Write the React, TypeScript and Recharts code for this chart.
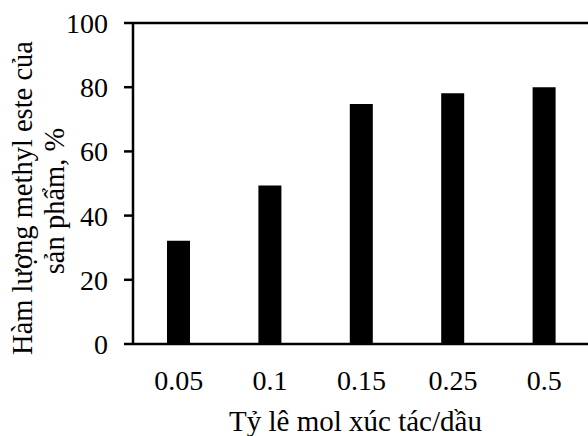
import React from "react";
import {
  BarChart,
  Bar,
  XAxis,
  YAxis,
  ReferenceLine,
  Label,
} from "recharts";

const ratios = ["0.05", "0.1", "0.15", "0.25", "0.5"];
const methylEster = [32.2, 49.4, 74.8, 78.1, 80.0];
const yTicks = [0, 20, 40, 60, 80, 100];

const data = ratios.map((r, i) => ({ ratio: r, value: methylEster[i] }));

const FONT = "'Liberation Serif', 'Times New Roman', serif";
const FS = 28;

const YLabel = () => (
  <g>
    <text
      x={32}
      y={198}
      transform="rotate(-90 32 198)"
      textAnchor="middle"
      fontFamily={FONT}
      fontSize={28.5}
      fill="#000"
    >
      Hàm lượng methyl este của
    </text>
    <text
      x={64}
      y={201}
      transform="rotate(-90 64 201)"
      textAnchor="middle"
      fontFamily={FONT}
      fontSize={28.5}
      fill="#000"
    >
      sản phẩm, %
    </text>
  </g>
);

export default function App() {
  return (
    <div
      style={{
        position: "absolute",
        left: 0,
        top: 0,
        width: 588,
        height: 436,
        overflow: "hidden",
        background: "#fff",
      }}
    >
      <BarChart
        width={600}
        height={436}
        data={data}
        margin={{ top: 23, right: 10, left: 0, bottom: 0 }}
        barCategoryGap="0%"
      >
        <XAxis
          dataKey="ratio"
          height={92}
          tickLine={false}
          tickMargin={20}
          axisLine={{ stroke: "#000", strokeWidth: 2.5 }}
          tick={{ fill: "#000", fontFamily: FONT, fontSize: FS }}
        >
          <Label
            value="Tỷ lê mol xúc tác/dầu"
            position="insideBottom"
            offset={5}
            dx={-6}
            style={{ fill: "#000", fontFamily: FONT, fontSize: 29 }}
          />
        </XAxis>
        <YAxis
          width={133}
          domain={[0, 100]}
          ticks={yTicks}
          tickSize={9}
          tickMargin={16}
          interval={0}
          axisLine={{ stroke: "#000", strokeWidth: 2.5 }}
          tickLine={{ stroke: "#000", strokeWidth: 2.5 }}
          tick={{ fill: "#000", fontFamily: FONT, fontSize: FS }}
        >
          <Label content={<YLabel />} />
        </YAxis>
        <ReferenceLine y={100} stroke="#000" strokeWidth={2.5} />
        <Bar
          dataKey="value"
          fill="#000"
          barSize={23}
          isAnimationActive={false}
        />
      </BarChart>
    </div>
  );
}
